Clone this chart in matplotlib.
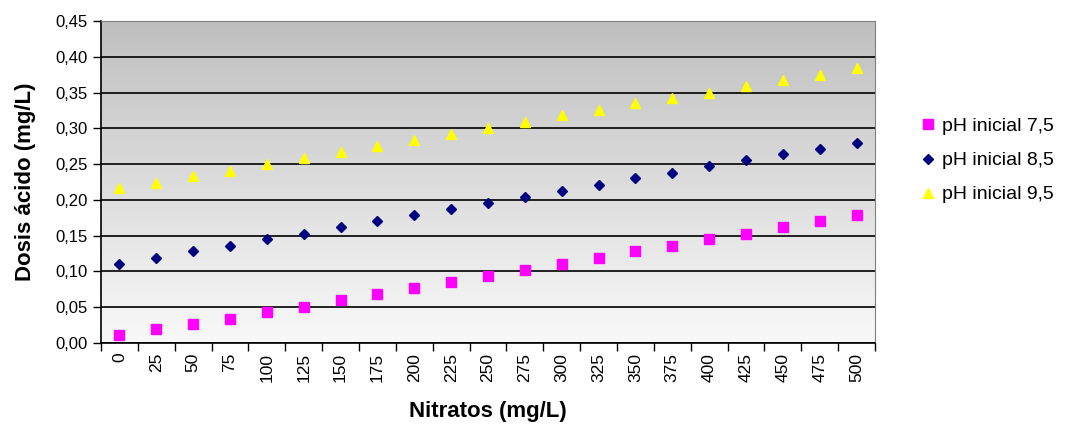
import numpy as np
import matplotlib.pyplot as plt
from matplotlib.colors import LinearSegmentedColormap
from matplotlib.ticker import FixedLocator, NullFormatter

plt.rcParams['font.family'] = ['Liberation Sans', 'DejaVu Sans']

# Data
nitratos = [0, 25, 50, 75, 100, 125, 150, 175, 200, 225, 250,
            275, 300, 325, 350, 375, 400, 425, 450, 475, 500]
ph_75 = [0.011, 0.019, 0.026, 0.034, 0.043, 0.051, 0.060, 0.068, 0.077, 0.085, 0.094,
         0.102, 0.111, 0.119, 0.128, 0.136, 0.145, 0.153, 0.162, 0.170, 0.179]
ph_85 = [0.111, 0.119, 0.128, 0.136, 0.145, 0.153, 0.162, 0.170, 0.179, 0.187, 0.196,
         0.204, 0.213, 0.221, 0.230, 0.238, 0.247, 0.256, 0.264, 0.271, 0.279]
ph_95 = [0.216, 0.224, 0.233, 0.241, 0.250, 0.258, 0.267, 0.275, 0.284, 0.292, 0.301,
         0.309, 0.318, 0.326, 0.335, 0.343, 0.350, 0.359, 0.367, 0.375, 0.384]
series_labels = ['pH inicial 7,5', 'pH inicial 8,5', 'pH inicial 9,5']
y_ticks = [0.0, 0.05, 0.10, 0.15, 0.20, 0.25, 0.30, 0.35, 0.40, 0.45]

fig = plt.figure(figsize=(10.77, 4.28), dpi=100)
ax = fig.add_axes([0.0938, 0.1986, 0.7187, 0.7524])

# gradient background
grad = np.linspace(0, 1, 256).reshape(-1, 1)
cmap = LinearSegmentedColormap.from_list('g', ['#bfbfbf', '#f9f9f9'])
ax.imshow(grad, cmap=cmap, aspect='auto', extent=[0, 1, 0, 1],
          transform=ax.transAxes, zorder=0)

x = np.arange(len(nitratos))
ax.plot(x, ph_75, 's', color='#ff00ff', markersize=6.5, label=series_labels[0], zorder=3)
ax.plot(x, ph_85, 'D', color='#000080', markersize=5.5, label=series_labels[1], zorder=3)
ax.plot(x, ph_95, '^', color='#ffff00', markersize=7.5, label=series_labels[2], zorder=3)

ax.set_xlim(-0.5, len(nitratos) - 0.5)
ax.set_ylim(0, 0.45)
ax.set_yticks(y_ticks)
ax.set_yticklabels([f'{v:.2f}'.replace('.', ',') for v in y_ticks], fontsize=12)
ax.yaxis.grid(True, color='black', linewidth=1.2)
for line in ax.get_ygridlines():
    line.set_zorder(1)

ax.xaxis.set_major_locator(FixedLocator(np.arange(-0.5, len(nitratos), 1)))
ax.xaxis.set_major_formatter(NullFormatter())
ax.xaxis.set_minor_locator(FixedLocator(x))
ax.set_xticklabels([str(n) for n in nitratos], minor=True, rotation=90, fontsize=12.5)
ax.tick_params(axis='x', which='minor', length=0, pad=7)
ax.tick_params(axis='x', which='major', length=6, width=1)
ax.tick_params(axis='y', length=6, width=1)

ax.spines['top'].set_color('#808080')
ax.spines['right'].set_color('#808080')
ax.spines['left'].set_linewidth(1.2)
ax.spines['bottom'].set_linewidth(1.2)

ax.set_xlabel('Nitratos (mg/L)', fontsize=16, fontweight='bold', labelpad=14)
ax.set_ylabel('Dosis ácido (mg/L)', fontsize=16, fontweight='bold', labelpad=14)

fig.legend(loc='center left', bbox_to_anchor=(0.835, 0.625), frameon=False,
           fontsize=14, handletextpad=0.1, labelspacing=0.85, handlelength=1.2)

fig.savefig('out.png', dpi=100)
